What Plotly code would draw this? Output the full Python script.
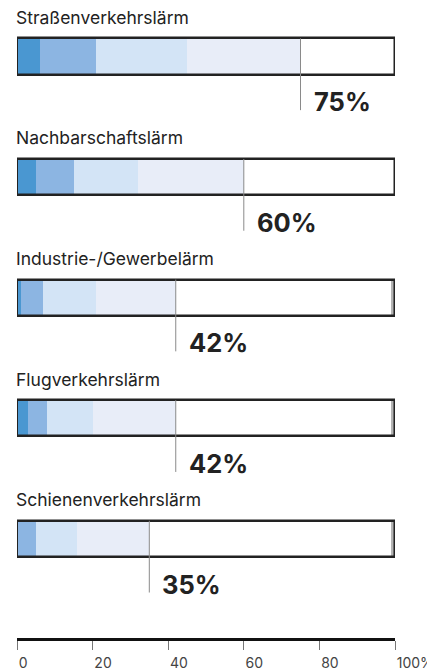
import plotly.graph_objects as go

# Lärmbelästigung nach Lärmquelle, Anteil in Prozent (gestapelt)
categories = [
    "Straßenverkehrslärm",
    "Nachbarschaftslärm",
    "Industrie-/Gewerbelärm",
    "Flugverkehrslärm",
    "Schienenverkehrslärm",
]
level_1 = [6, 5, 1, 3, 0]      # äußerst gestört
level_2 = [15, 10, 6, 5, 5]    # stark gestört
level_3 = [24, 17, 14, 12, 11]  # mittelmäßig gestört
level_4 = [30, 28, 21, 22, 19]  # etwas gestört
no_answer = [0, 0, 1, 1, 1]
totals = [75, 60, 42, 42, 35]

tick_vals = [0, 20, 40, 60, 80, 100]
tick_text = ["0", "20", "40", "60", "80", "100%"]

colors = ["#4a97d1", "#8cb5e2", "#d3e4f6", "#e8edf8"]
FONT = "Inter, Roboto, sans-serif"
BAR_W = 0.30

ypos = list(range(len(categories)))
fig = go.Figure()

# stacked segments
base = [0] * len(categories)
for vals, col in zip([level_1, level_2, level_3, level_4], colors):
    fig.add_trace(go.Bar(
        orientation="h", y=ypos, x=vals, base=base, width=BAR_W,
        marker=dict(color=col, line=dict(width=0)), hoverinfo="skip",
    ))
    base = [b + v for b, v in zip(base, vals)]

# remainder (white) and grey "keine Angabe" at the right end
rest = [100 - b - n for b, n in zip(base, no_answer)]
fig.add_trace(go.Bar(
    orientation="h", y=ypos, x=rest, base=base, width=BAR_W,
    marker=dict(color="white", line=dict(width=0)), hoverinfo="skip",
))
fig.add_trace(go.Bar(
    orientation="h", y=ypos, x=no_answer, base=[100 - n for n in no_answer],
    width=BAR_W, marker=dict(color="#b4b4b4", line=dict(width=0)), hoverinfo="skip",
))

# outline box
fig.add_trace(go.Bar(
    orientation="h", y=ypos, x=[100] * len(categories), base=[0] * len(categories),
    width=BAR_W, marker=dict(color="rgba(0,0,0,0)", line=dict(color="#222", width=2.5)),
    hoverinfo="skip",
))

# marker lines at the total
for i, t in enumerate(totals):
    fig.add_trace(go.Scatter(
        x=[t, t], y=[i - BAR_W / 2, i + 0.445], mode="lines",
        line=dict(color="#8a8a8a", width=1), hoverinfo="skip",
    ))
    fig.add_annotation(
        x=t, y=i + 0.375, xref="x", yref="y", text=f"<b>{t}%</b>",
        showarrow=False, xanchor="left", yanchor="middle", xshift=11,
        font=dict(family=FONT, size=25.5, color="#222"),
    )
    fig.add_annotation(
        x=0, y=i - 0.325, xref="x", yref="y", text=categories[i],
        showarrow=False, xanchor="left", yanchor="middle", xshift=-3,
        font=dict(family=FONT, size=17.5, color="#222"),
    )

# page body adds an 8px offset, so the figure is sized 427x662
fig.update_layout(
    width=427, height=662,
    margin=dict(l=9, r=40, t=0, b=32),
    barmode="overlay", bargap=0,
    showlegend=False,
    plot_bgcolor="white", paper_bgcolor="white",
    xaxis=dict(
        range=[0, 100], tickvals=tick_vals, ticktext=tick_text,
        showgrid=False, zeroline=False, showline=True, linecolor="#111",
        linewidth=2.5, ticks="outside", ticklen=9, tickwidth=1, tickcolor="#777",
        ticklabelposition="outside right", ticklabelstandoff=10, automargin=False,
        tickfont=dict(family=FONT, size=14, color="#444"),
        fixedrange=True,
    ),
    yaxis=dict(
        range=[4.822, -0.402], showticklabels=False, showgrid=False,
        zeroline=False, showline=False, fixedrange=True, automargin=False,
    ),
)

fig.write_html("out.html")
